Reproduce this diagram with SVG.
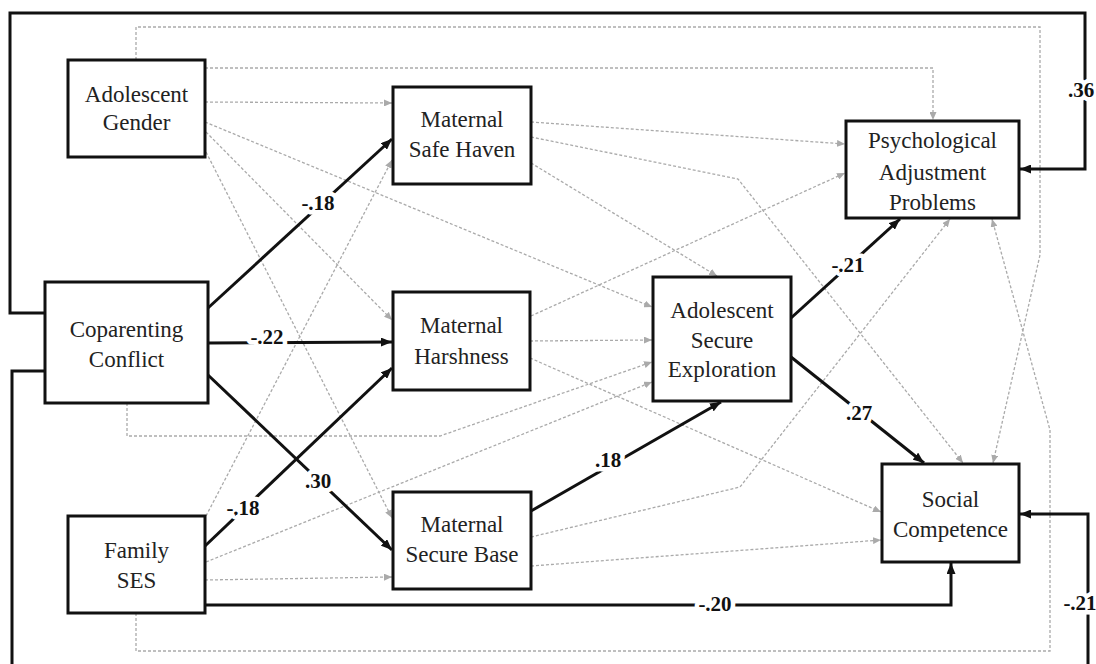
<svg xmlns="http://www.w3.org/2000/svg" width="1096" height="664" viewBox="0 0 1096 664">
<style>
.box{fill:#fff;stroke:#111;stroke-width:3}
.nt{font-family:"Liberation Serif","Times New Roman",serif;font-size:23px;fill:#222;text-anchor:middle}
.lb{font-family:"Liberation Serif","Times New Roman",serif;font-size:21px;font-weight:bold;fill:#111;text-anchor:middle;paint-order:stroke;stroke:#fff;stroke-width:9px;stroke-linejoin:round}
.sig{fill:none;stroke:#111;stroke-width:3;marker-end:url(#ab)}
.ns{fill:none;stroke:#aaa;stroke-width:1.3;stroke-dasharray:3 2;marker-end:url(#ag)}
</style>
<defs>
<marker id="ab" markerUnits="userSpaceOnUse" markerWidth="11" markerHeight="9" refX="11" refY="4.5" orient="auto"><path d="M0,0 L11,4.5 L0,9 z" fill="#111"/></marker>
<marker id="ag" markerUnits="userSpaceOnUse" markerWidth="8" markerHeight="7" refX="8" refY="3.5" orient="auto"><path d="M0,0 L8,3.5 L0,7 z" fill="#aaa"/></marker>
</defs>
<rect width="1096" height="664" fill="#fff"/>
<g id="connectors">
<g id="nonsig">
<path class="ns" d="M205,68 H933 V120"/>
<path class="ns" d="M136,60 V27 H1040 V255 L993,463"/>
<path class="ns" d="M205,102 L392,103"/>
<path class="ns" d="M205,122 L652,307"/>
<path class="ns" d="M206,132 L392,320"/>
<path class="ns" d="M206,152 L392,518"/>
<path class="ns" d="M206,516 L392,160"/>
<path class="ns" d="M206,562 L652,382"/>
<path class="ns" d="M205,580 L392,577"/>
<path class="ns" d="M136,613 V651 H1050 V430 L992,219"/>
<path class="ns" d="M127,403 V436 H440 L652,362"/>
<path class="ns" d="M531,122 L845,144"/>
<path class="ns" d="M531,137 L738,179 L963,463"/>
<path class="ns" d="M531,163 L717,276"/>
<path class="ns" d="M531,316 L845,173"/>
<path class="ns" d="M530,341 L652,340"/>
<path class="ns" d="M530,358 L881,512"/>
<path class="ns" d="M531,537 L740,487 L950,219"/>
<path class="ns" d="M531,566 L881,540"/>
</g>
<g id="sig">
<path class="sig" d="M45,313 H10 V13 H1085 V169 H1020"/>
<path class="sig" d="M45,371 H12 V670 H1088 V514 H1020"/>
<path class="sig" d="M205,605 H951 V563"/>
<path class="sig" d="M208,308 L392,139"/>
<path class="sig" d="M208,343 L392,342"/>
<path class="sig" d="M208,375 L392,550"/>
<path class="sig" d="M205,546 L392,368"/>
<path class="sig" d="M531,511 L721,402"/>
<path class="sig" d="M791,318 L900,219"/>
<path class="sig" d="M791,357 L924,463"/>
</g>
<g id="labels">
<text class="lb" x="1081" y="97">.36</text>
<text class="lb" x="1080" y="610">-.21</text>
<text class="lb" x="715" y="611">-.20</text>
<text class="lb" x="318" y="210">-.18</text>
<text class="lb" x="267" y="344">-.22</text>
<text class="lb" x="318" y="488">.30</text>
<text class="lb" x="243" y="515">-.18</text>
<text class="lb" x="608" y="467">.18</text>
<text class="lb" x="848" y="272">-.21</text>
<text class="lb" x="859" y="420">.27</text>
</g>
</g>
<g id="gender"><rect class="box" x="68" y="60" width="137" height="97"/><text class="nt" x="136.5" y="102">Adolescent</text><text class="nt" x="136.5" y="130">Gender</text></g>
<g id="coparenting"><rect class="box" x="45" y="282" width="163" height="121"/><text class="nt" x="126.5" y="337">Coparenting</text><text class="nt" x="126.5" y="367">Conflict</text></g>
<g id="ses"><rect class="box" x="68" y="516" width="137" height="97"/><text class="nt" x="136.5" y="558">Family</text><text class="nt" x="136.5" y="588">SES</text></g>
<g id="safehaven"><rect class="box" x="393" y="87" width="138" height="97"/><text class="nt" x="462" y="127">Maternal</text><text class="nt" x="462" y="157">Safe Haven</text></g>
<g id="harshness"><rect class="box" x="393" y="292" width="137" height="98"/><text class="nt" x="461.5" y="333">Maternal</text><text class="nt" x="461.5" y="364">Harshness</text></g>
<g id="securebase"><rect class="box" x="393" y="492" width="138" height="97"/><text class="nt" x="462" y="532">Maternal</text><text class="nt" x="462" y="562">Secure Base</text></g>
<g id="exploration"><rect class="box" x="653" y="277" width="138" height="124"/><text class="nt" x="722" y="318">Adolescent</text><text class="nt" x="722" y="348">Secure</text><text class="nt" x="722" y="377">Exploration</text></g>
<g id="psych"><rect class="box" x="846" y="121" width="173" height="97"/><text class="nt" x="932.5" y="148">Psychological</text><text class="nt" x="932.5" y="180">Adjustment</text><text class="nt" x="932.5" y="210">Problems</text></g>
<g id="social"><rect class="box" x="882" y="464" width="137" height="98"/><text class="nt" x="950.5" y="507">Social</text><text class="nt" x="950.5" y="537">Competence</text></g>
</svg>
